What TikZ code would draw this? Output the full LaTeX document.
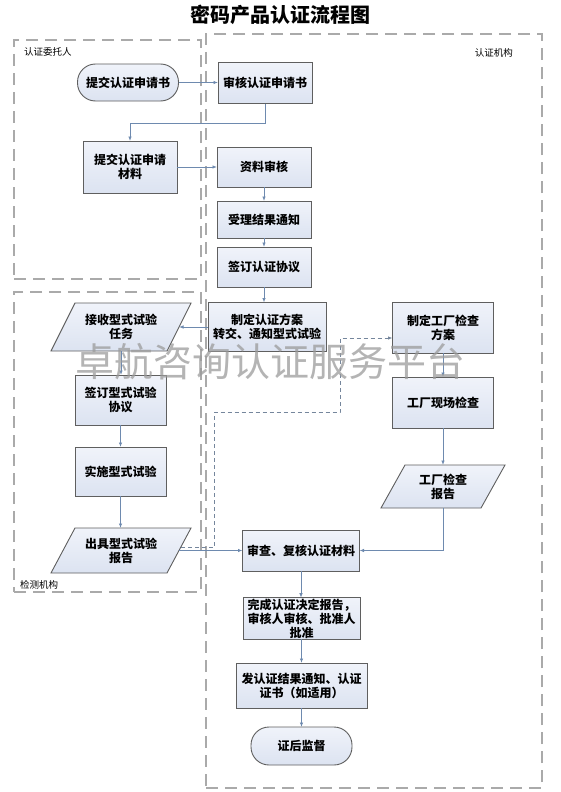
\documentclass[tikz,border=0pt]{standalone}
\usepackage{fontspec}
\newfontfamily\cjk{Noto Sans CJK SC}
\usetikzlibrary{arrows.meta,calc}
\definecolor{boxtop}{RGB}{240,243,250}
\definecolor{boxbot}{RGB}{220,227,241}
\definecolor{boxline}{RGB}{95,95,95}
\definecolor{arrcol}{RGB}{110,138,175}
\definecolor{regcol}{RGB}{170,170,170}
\definecolor{wmcol}{RGB}{155,155,155}
\tikzset{
  box/.style={draw=boxline, line width=0.9pt, top color=boxtop, bottom color=boxbot, align=center,
    font=\cjk\bfseries\fontsize{12}{14}\selectfont, inner sep=1pt, outer sep=0pt},
  stadium/.style={box, rounded corners=18pt},
  ptext/.style={align=center, font=\cjk\bfseries\fontsize{12}{14}\selectfont, inner sep=1pt, outer sep=0pt},
  pshape/.style={draw=boxline, line width=0.9pt, top color=boxtop, bottom color=boxbot},
  arr/.style={draw=arrcol, line width=0.8pt, -{Latex[length=4.5pt,width=3.5pt]}},
  dasharr/.style={draw=arrcol!60!gray, line width=0.9pt, dash pattern=on 4pt off 3pt, -{Latex[length=4.5pt,width=3.5pt]}},
  region/.style={draw=regcol, line width=1.4pt, dash pattern=on 12pt off 7pt, inner sep=0pt, outer sep=0pt, anchor=north west},
  reglabel/.style={font=\cjk\fontsize{9.5}{11}\selectfont, inner sep=0pt},
  wm/.style={font=\cjk\fontsize{39}{39}\selectfont, text=wmcol, opacity=0.75, inner sep=0pt}
}
\newcommand\mypara[6]{%
  \path[pshape] ({#2-#4/2+12},{#3-#5/2}) -- ({#2+#4/2+12},{#3-#5/2}) -- ({#2+#4/2-12},{#3+#5/2}) -- ({#2-#4/2-12},{#3+#5/2}) -- cycle;
  \node[ptext, minimum width=#4pt, minimum height=#5pt] (#1) at (#2,#3) {#6};}
\begin{document}
\begin{tikzpicture}[x=1pt,y=-1pt]
\fill[white] (0,0) rectangle (560,792);
\useasboundingbox (0,0) rectangle (560,792);

\node[font=\cjk\bfseries\fontsize{20}{22}\selectfont, inner sep=0pt] (title) at (280,15) {密码产品认证流程图};

% regions
\node[region, minimum width=187pt, minimum height=239pt] (regA) at (14,40) {};
\node[region, minimum width=187pt, minimum height=300pt] (regC) at (14,292) {};
\node[region, minimum width=336pt, minimum height=754pt] (regB) at (206,34) {};
\node[reglabel, anchor=west] (labA) at (24,52) {认证委托人};
\node[reglabel, anchor=east] (labB) at (513,53) {认证机构};
\node[reglabel, anchor=west] (labC) at (20,585) {检测机构};

% applicant
\node[stadium, minimum width=101pt, minimum height=37pt] (s1) at (128,82.5) {提交认证申请书};
\node[box, minimum width=94pt, minimum height=52pt] (a2) at (130,167) {提交认证申请\\材料};

% certification body column
\node[box, minimum width=94pt, minimum height=41pt] (b1) at (265,83) {审核认证申请书};
\node[box, minimum width=94pt, minimum height=40pt] (b2) at (264,167) {资料审核};
\node[box, minimum width=94pt, minimum height=37pt] (b3) at (264,219.5) {受理结果通知};
\node[box, minimum width=94pt, minimum height=40pt] (b4) at (264,267) {签订认证协议};
\node[box, minimum width=118pt, minimum height=49pt] (b5) at (267,327) {制定认证方案\\转交、通知型式试验};

% factory inspection
\node[box, minimum width=101pt, minimum height=51pt] (f1) at (443,327.5) {制定工厂检查\\方案};
\node[box, minimum width=101pt, minimum height=51pt] (f2) at (443,402.5) {工厂现场检查};
\mypara{f3}{443}{486.5}{100}{43}{工厂检查\\报告}

% testing lab
\mypara{t1}{121}{327}{116}{48}{接收型式试验\\任务}
\node[box, minimum width=91pt, minimum height=50pt] (t2) at (120.5,400) {签订型式试验\\协议};
\node[box, minimum width=91pt, minimum height=49pt] (t3) at (120.5,471.5) {实施型式试验};
\mypara{t4}{121}{550.5}{116}{45}{出具型式试验\\报告}

% final steps
\node[box, minimum width=117pt, minimum height=41pt] (r1) at (301,550.5) {审查、复核认证材料};
\node[box, minimum width=117pt, minimum height=41pt] (r2) at (301.5,618.5) {完成认证决定报告，\\审核人审核、批准人\\批准};
\node[box, minimum width=131pt, minimum height=45pt] (r3) at (301.5,685.5) {发认证结果通知、认证\\证书（如适用）};
\node[stadium, minimum width=101pt, minimum height=38pt] (r4) at (301.5,746) {证后监督};

% connectors
\draw[arr] (s1.east) -- (s1.east -| b1.west);
\draw[arr] (b1.south) -- ++(0,19.5) -| (a2.north);
\draw[arr] (a2.east) -- (b2.west);
\draw[arr] (b2.south) -- (b3.north);
\draw[arr] (b3.south) -- (b4.north);
\draw[arr] (b4.south) -- (b4.south |- b5.north);
\draw[arr] (b5.west) -- (t1.east);
\draw[arr] (t1.south) -- (t1.south |- t2.north);
\draw[arr] (t2.south) -- (t3.north);
\draw[arr] (t3.south) -- (t3.south |- t4.north);
\draw[arr] (t4.east) -- (r1.west);
\draw[arr] (f1.south) -- (f2.north);
\draw[arr] (f2.south) -- (f3.south |- f3.north);
\draw[arr] (f3.south) |- (r1.east);
\draw[arr] (r1.south) -- (r1.south |- r2.north);
\draw[arr] (r2.south) -- (r3.north);
\draw[arr] (r3.south) -- (r4.north);

\coordinate (d1) at (214,412);
\coordinate (d2) at (340,338);
\draw[dasharr] ($(t4.east)+(2,-3)$) -| (d1) -| (d2) -- (f1.west |- d2);

% watermark
\node[wm] (wmark) at (270,362) {卓航咨询认证服务平台};
\end{tikzpicture}
\end{document}
